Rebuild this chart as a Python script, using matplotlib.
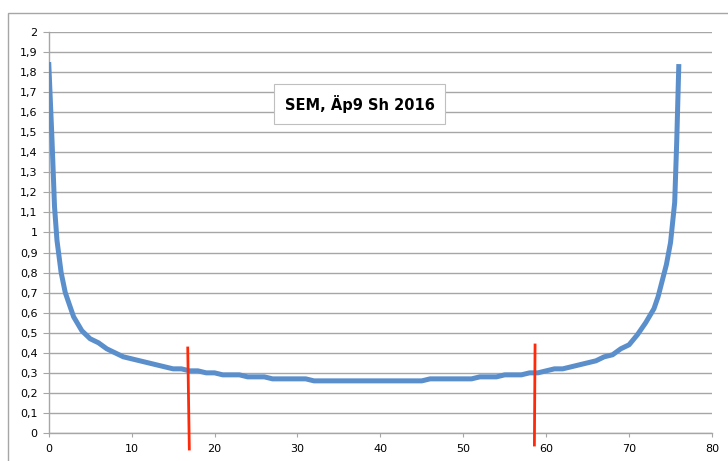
import matplotlib
matplotlib.use('Agg')
import matplotlib.pyplot as plt
from matplotlib.patches import Rectangle
from matplotlib.ticker import MultipleLocator, FuncFormatter

# SEM curve
x = [0, 0.4, 0.7, 1, 1.5, 2, 3, 4, 5, 6, 7, 8, 9, 10,
     11, 12, 13, 14, 15, 16, 17, 18, 19, 20,
     21, 22, 23, 24, 25, 26, 27, 28, 29, 30,
     31, 32, 33, 34, 35, 36, 37, 38, 39, 40,
     41, 42, 43, 44, 45, 46, 47, 48, 49, 50,
     51, 52, 53, 54, 55, 56, 57, 58, 59, 60,
     61, 62, 63, 64, 65, 66, 67, 68, 69, 70,
     71, 72, 73, 73.5, 74, 74.5, 75, 75.5, 75.75, 76]
sem = [1.85, 1.46, 1.13, 0.96, 0.80, 0.70, 0.58, 0.51, 0.47, 0.45, 0.42, 0.40, 0.38, 0.37,
       0.36, 0.35, 0.34, 0.33, 0.32, 0.32, 0.31, 0.31, 0.30, 0.30,
       0.29, 0.29, 0.29, 0.28, 0.28, 0.28, 0.27, 0.27, 0.27, 0.27,
       0.27, 0.26, 0.26, 0.26, 0.26, 0.26, 0.26, 0.26, 0.26, 0.26,
       0.26, 0.26, 0.26, 0.26, 0.26, 0.27, 0.27, 0.27, 0.27, 0.27,
       0.27, 0.28, 0.28, 0.28, 0.29, 0.29, 0.29, 0.30, 0.30, 0.31,
       0.32, 0.32, 0.33, 0.34, 0.35, 0.36, 0.38, 0.39, 0.42, 0.44,
       0.49, 0.55, 0.62, 0.68, 0.76, 0.84, 0.95, 1.15, 1.46, 1.84]

# hand-drawn red markers
red_left_x = [16.77, 16.96]
red_left_y = [0.424, -0.08]
red_right_x = [58.66, 58.58]
red_right_y = [0.439, -0.06]

title = 'SEM, Äp9 Sh 2016'

fig = plt.figure(figsize=(7.28, 4.61), dpi=100)
fig.patches.append(Rectangle((8 / 728, -0.1), 1.0, 1 - 13 / 461 + 0.1,
                             transform=fig.transFigure, fill=False,
                             edgecolor='#a6a6a6', lw=1.0))
ax = fig.add_axes([48.7 / 728, 1 - 433 / 461, (712 - 48.7) / 728, (433 - 32) / 461])

ax.plot(x, sem, color='#5b8fcb', lw=3.6, solid_capstyle='butt', solid_joinstyle='round', zorder=3)
ax.plot(red_left_x, red_left_y, color='#ff2a0a', lw=2.0, clip_on=False, zorder=4)
ax.plot(red_right_x, red_right_y, color='#ff2a0a', lw=2.0, clip_on=False, zorder=4)

ax.set_xlim(0, 80)
ax.set_ylim(0, 2)
ax.xaxis.set_major_locator(MultipleLocator(10))
ax.yaxis.set_major_locator(MultipleLocator(0.1))
ax.yaxis.set_major_formatter(FuncFormatter(lambda v, p: ('%g' % round(v, 1)).replace('.', ',')))
ax.grid(axis='y', color='#a6a6a6', lw=1.0)
ax.set_axisbelow(True)
for s in ['top', 'right']:
    ax.spines[s].set_visible(False)
for s in ['left', 'bottom']:
    ax.spines[s].set_color('#a6a6a6')
    ax.spines[s].set_linewidth(1.0)
ax.tick_params(axis='y', length=4, color='#a6a6a6', labelsize=8, pad=4)
ax.tick_params(axis='x', length=3, color='#a6a6a6', labelsize=8, pad=5)

ax.text(0.5 * (273 + 446) / 728, 1 - 104 / 461, title, transform=fig.transFigure,
        ha='center', va='center', fontsize=10.5, fontweight='bold',
        bbox=dict(boxstyle='square,pad=0.75', fc='white', ec='#bfbfbf', lw=0.8))

fig.savefig('out.png', dpi=100)
